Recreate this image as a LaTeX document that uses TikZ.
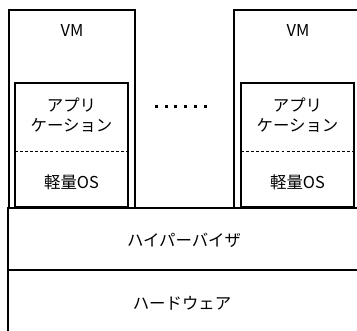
\documentclass[tikz,border=0pt]{standalone}
\usepackage{fontspec}
\setmainfont{Noto Sans CJK JP}
\begin{document}
\begin{tikzpicture}[x=0.75pt,y=-0.75pt,
  vmbox/.style={draw,line width=1.3pt,inner sep=0pt},
  appbox/.style={draw,line width=1.9pt,inner sep=0pt},
  layerbox/.style={draw,line width=1.6pt,inner sep=0pt},
  lbl/.style={font=\fontsize{12.3pt}{15pt}\selectfont,align=center,inner sep=0pt},
  sep/.style={line width=0.6pt,dash pattern=on 2.2pt off 1.6pt}]
\useasboundingbox (0,0) rectangle (357,331);
\clip (0,0) rectangle (357,331);
% VM 1
\node[vmbox,minimum width=126*0.75pt,minimum height=198*0.75pt] (vm1) at (72,109) {};
\node[appbox,minimum width=113*0.75pt,minimum height=124*0.75pt] (app1) at (71.5,145) {};
\node[lbl] (vm1t) at (72,30) {VM};
\node[lbl] (app1t) at (71.5,115) {アプリ\\ケーション};
\node[lbl] (os1t) at (71.5,182) {軽量OS};
\coordinate (d1a) at (15,151);
\coordinate (d1b) at (128,151);
\draw[sep] (d1a) -- (d1b);
% VM 2
\node[vmbox,minimum width=127*0.75pt,minimum height=198*0.75pt] (vm2) at (297.5,109) {};
\node[appbox,minimum width=113*0.75pt,minimum height=124*0.75pt] (app2) at (297.5,145) {};
\node[lbl] (vm2t) at (298,30) {VM};
\node[lbl] (app2t) at (297.5,115) {アプリ\\ケーション};
\node[lbl] (os2t) at (297.5,182) {軽量OS};
\coordinate (d2a) at (241,151);
\coordinate (d2b) at (354,151);
\draw[sep] (d2a) -- (d2b);
% dots
\foreach \i in {0,...,5} {
  \fill (154.8+\i*9.8,104.6) rectangle ++(3,3);
}
% hypervisor & hardware
\node[layerbox,minimum width=354*0.75pt,minimum height=62*0.75pt] (hv) at (185,239) {};
\node[layerbox,minimum width=354*0.75pt,minimum height=80*0.75pt] (hw) at (185,310) {};
\node[lbl] (hvt) at (184,240) {ハイパーバイザ};
\node[lbl] (hwt) at (182,303) {ハードウェア};
\end{tikzpicture}
\end{document}
